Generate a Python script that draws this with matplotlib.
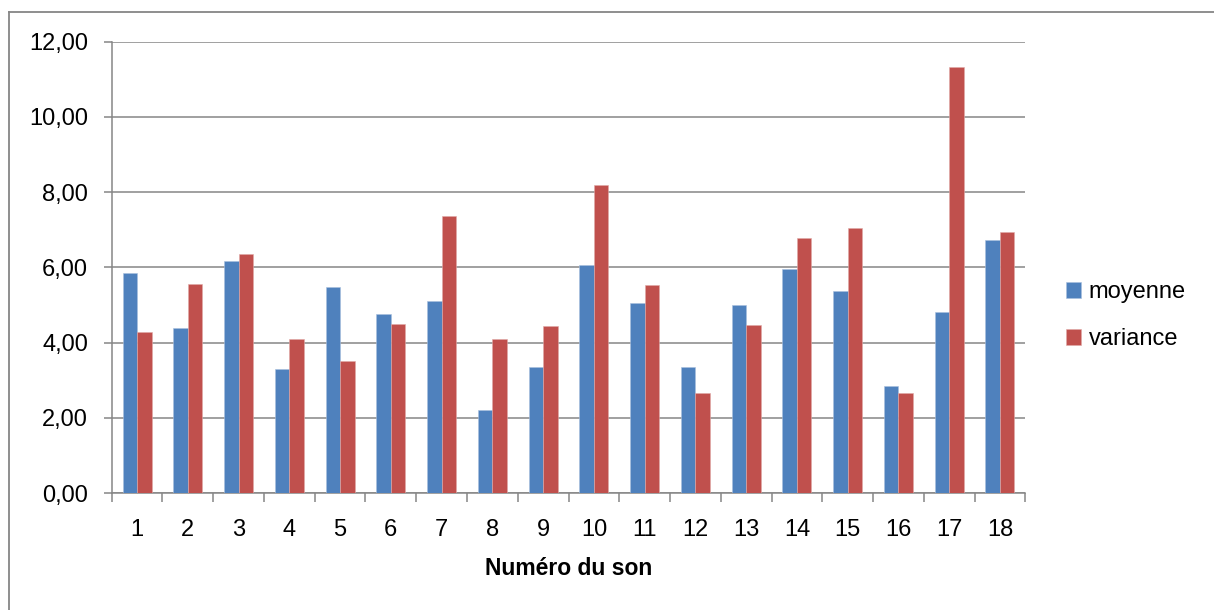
import numpy as np
import matplotlib
matplotlib.use('Agg')
import matplotlib.pyplot as plt
from matplotlib.lines import Line2D
from matplotlib.ticker import FuncFormatter

plt.rcParams['font.family'] = ['Liberation Sans', 'DejaVu Sans']

# data
sons = [str(i) for i in range(1, 19)]
moyenne = [5.85, 4.40, 6.18, 3.31, 5.47, 4.77, 5.10, 2.21, 3.36,
           6.06, 5.04, 3.36, 5.01, 5.96, 5.37, 2.85, 4.80, 6.74]
variance = [4.27, 5.57, 6.36, 4.10, 3.52, 4.50, 7.37, 4.10, 4.45,
            8.18, 5.54, 2.67, 4.46, 6.79, 7.06, 2.67, 11.32, 6.95]
yticks = [0, 2, 4, 6, 8, 10, 12]

blue = '#4F81BD'
red = '#C0504D'
gray = '#868686'

fig = plt.figure(figsize=(12.14, 6.10), dpi=100)
ax = fig.add_axes([0.092, 0.1918, 0.7526, 0.7398])

x = np.arange(len(sons))
w = 0.285
ax.bar(x - w / 2, moyenne, w, color=blue, edgecolor='#a9c0de', linewidth=0.4, label='moyenne', zorder=3)
ax.bar(x + w / 2, variance, w, color=red, edgecolor='#e0a9a7', linewidth=0.4, label='variance', zorder=3)

ax.set_xlim(-0.5, len(sons) - 0.5)
ax.set_ylim(0, 12)
ax.set_yticks(yticks)
ax.yaxis.set_major_formatter(FuncFormatter(lambda v, p: f'{v:.2f}'.replace('.', ',')))
ax.grid(axis='y', color=gray, linewidth=1.1, zorder=0)

# labels at the centres, tick marks between the groups
ax.set_xticks(x)
ax.set_xticklabels(sons)
ax.set_xticks(np.arange(-0.5, len(sons)), minor=True)
ax.tick_params(axis='x', which='major', length=0, pad=19, labelsize=17)
ax.tick_params(axis='x', which='minor', length=6.5, width=1.1, color=gray, direction='out')
ax.tick_params(axis='y', length=6, width=1.1, color=gray, pad=11, labelsize=17)

for s in ['top', 'right']:
    ax.spines[s].set_visible(False)
for s in ['left', 'bottom']:
    ax.spines[s].set_color(gray)
    ax.spines[s].set_linewidth(1.1)

ax.set_xlabel('Numéro du son', fontsize=16.5, fontweight='bold', labelpad=11.5)

fig.legend(loc='upper left', bbox_to_anchor=(1066 / 1214, 1 - 281 / 610), frameon=False,
           fontsize=17, handlelength=0.65, handleheight=0.65, handletextpad=0.3,
           labelspacing=1.07, borderpad=0, borderaxespad=0)

# outer chart border (left and top visible)
fig.add_artist(Line2D([9 / 1214, 9 / 1214], [0, 1 - 12 / 610], color=gray, linewidth=1.3))
fig.add_artist(Line2D([9 / 1214, 1], [1 - 12 / 610, 1 - 12 / 610], color=gray, linewidth=1.3))

fig.savefig('out.png', dpi=100)
